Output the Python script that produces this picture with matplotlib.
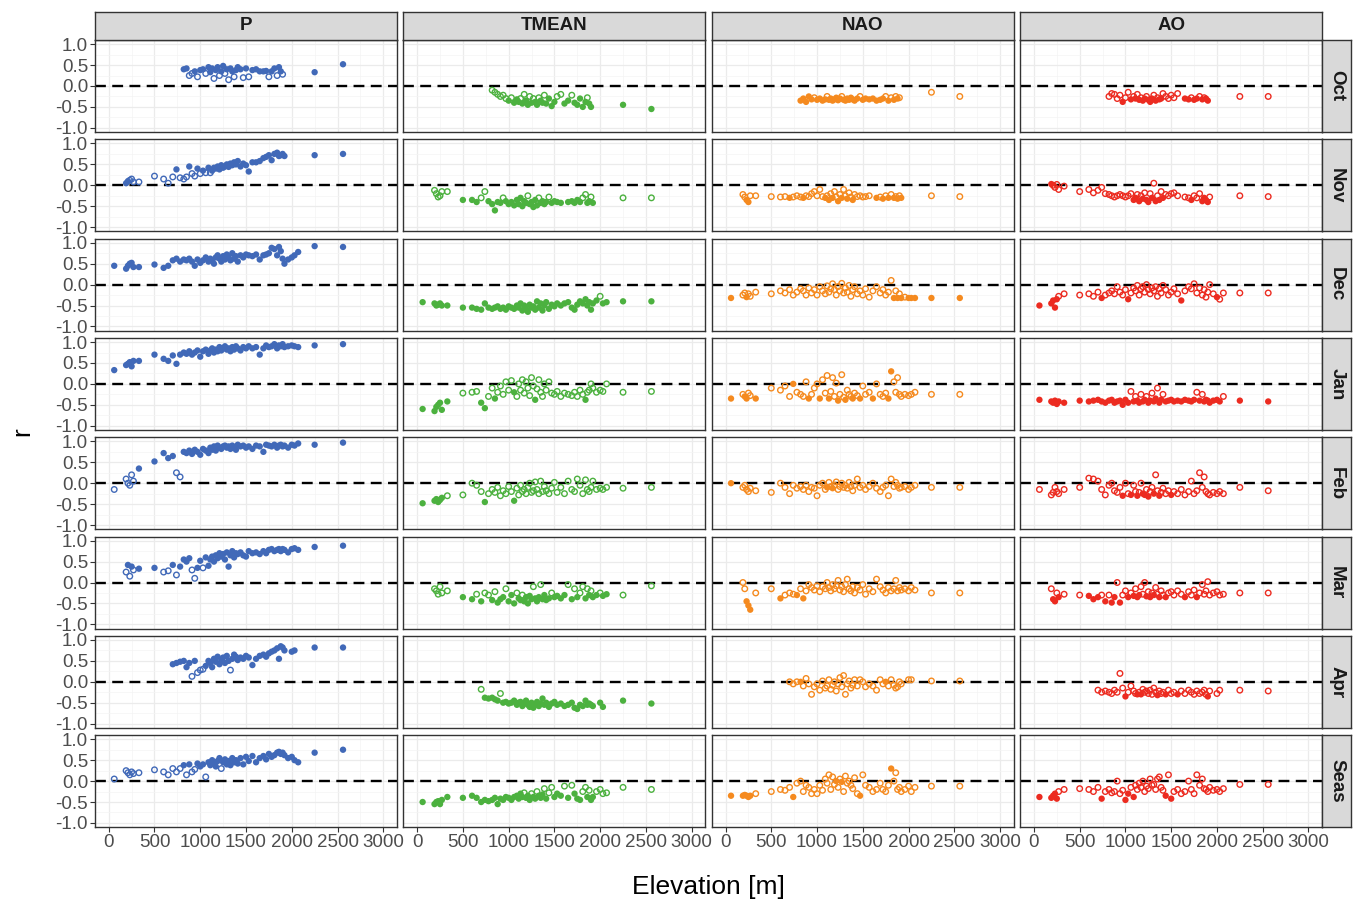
import matplotlib.pyplot as plt

plt.rcParams['font.family'] = ['Liberation Sans', 'DejaVu Sans']

N = None

# station elevations [m]
elev = [60, 190, 210, 230, 250, 270, 330,
        500, 600, 650, 700, 740, 780,
        820, 850, 880, 910, 940, 970, 1000, 1030, 1060, 1090,
        1110, 1130, 1150, 1170, 1190, 1210, 1230, 1250, 1270, 1290,
        1310, 1330, 1350, 1370, 1390, 1410, 1440, 1470, 1500, 1530,
        1570, 1610, 1650, 1690, 1720, 1750, 1780, 1810, 1840, 1860,
        1880, 1900, 1920, 1960, 2000, 2030, 2070, 2250, 2560]

months = ['Oct', 'Nov', 'Dec', 'Jan', 'Feb', 'Mar', 'Apr', 'Seas']
variables = ['P', 'TMEAN', 'NAO', 'AO']
colors = {'P': '#4169b8', 'TMEAN': '#4cb13f', 'NAO': '#f58a1f', 'AO': '#ec2b20'}

# ---- Oct ----
p_oct = [N]*13 + [
    0.40, 0.42, 0.25, 0.30, 0.35, 0.22, 0.38, 0.40, 0.30, 0.45,
    0.33, 0.42, 0.18, 0.38, 0.45, 0.25, 0.35, 0.48, 0.30, 0.40,
    0.15, 0.42, 0.35, 0.22, 0.38, 0.45, 0.40, 0.20, 0.42, 0.22,
    0.38, 0.40, 0.35, 0.35, 0.36, 0.22, 0.35, 0.42, 0.25, 0.45,
    0.35, 0.28, N, N, N, N, N, 0.33, 0.52]
p_oct_sig = "....... ...... 1100101101 1101101101 0110111010 1111101101 10.....11"
t_oct = [N]*13 + [
    -0.10, -0.15, -0.20, -0.25, -0.22, -0.30, -0.35, -0.28, -0.40, -0.32,
    -0.38, -0.30, -0.42, -0.20, -0.35, -0.45, -0.25, -0.40, -0.30, -0.38,
    -0.45, -0.28, -0.35, -0.40, -0.22, -0.42, -0.30, -0.48, -0.38, -0.25,
    -0.20, -0.42, -0.35, -0.22, -0.40, -0.45, -0.30, -0.50, -0.38, -0.28,
    -0.42, -0.50, N, N, N, N, N, -0.45, -0.55]
t_oct_sig = "....... ...... 0000001011 1010110101 1011011110 0110111110 11.....11"
n_oct = [N]*13 + [
    -0.35, -0.30, -0.38, -0.25, -0.32, -0.28, -0.33, -0.30, -0.35, -0.32,
    -0.25, -0.33, -0.30, -0.35, -0.32, -0.28, -0.34, -0.30, -0.25, -0.33,
    -0.35, -0.30, -0.33, -0.28, -0.32, -0.35, -0.30, -0.25, -0.33, -0.30,
    -0.32, -0.30, -0.35, -0.33, -0.30, -0.25, -0.35, -0.28, -0.33, -0.25,
    -0.30, -0.28, N, N, N, N, N, -0.15, -0.25]
n_oct_sig = "....... ...... 1111101111 0111111101 1111111011 1111101010 10.....00"
a_oct = [N]*13 + [
    -0.25, -0.18, -0.20, -0.30, -0.22, -0.38, -0.28, -0.15, -0.32, -0.25,
    -0.30, -0.20, -0.33, -0.28, -0.35, -0.30, -0.25, -0.33, -0.38, -0.30,
    -0.22, -0.35, -0.28, -0.32, -0.30, -0.18, -0.25, -0.30, -0.22, -0.28,
    -0.18, N, -0.30, -0.32, -0.28, -0.33, -0.30, -0.25, -0.32, -0.28,
    -0.30, -0.35, N, N, N, N, N, -0.25, -0.25]
a_oct_sig = "....... ...... 0000010010 1010110111 0101100000 0.11011010 11.....00"

# ---- Nov ----
p_nov = [N, 0.05, 0.10, 0.12, 0.15, 0.08, 0.08,
         0.22, 0.15, 0.05, 0.20, 0.38, 0.18,
         0.15, 0.20, 0.45, 0.28, 0.22, 0.40, 0.28, 0.35, 0.30, 0.42,
         0.30, 0.35, 0.42, 0.40, 0.45, 0.38, 0.48, 0.42, 0.45, 0.50,
         0.44, 0.52, 0.48, 0.55, 0.50, 0.58, 0.45, 0.52, 0.48, 0.33,
         0.55, 0.55, 0.58, 0.65, 0.68, 0.72, 0.60, 0.75, 0.78, 0.70,
         0.72, 0.75, 0.70, N, N, N, N, 0.72, 0.75]
p_nov_sig = ".110000 000010 0010010101 0111111111 1111111111 1111111111 111....11"
t_nov = [N, -0.12, -0.20, -0.28, -0.25, -0.15, -0.15,
         -0.35, -0.35, -0.40, -0.30, -0.15, -0.38,
         -0.45, -0.60, -0.40, -0.42, -0.30, -0.38, -0.45, -0.40, -0.48, -0.35,
         -0.45, -0.30, -0.50, -0.38, -0.42, -0.25, -0.45, -0.40, -0.52, -0.35,
         -0.48, -0.30, -0.42, -0.38, -0.45, -0.40, -0.28, -0.42, -0.38, -0.40,
         -0.42, N, -0.40, -0.38, -0.42, -0.35, -0.40, -0.30, -0.22, -0.42,
         -0.38, -0.28, -0.42, N, N, N, N, -0.30, -0.30]
t_nov_sig = ".000000 111001 1111011111 1111101111 1011110111 1.11111001 101....00"
n_nov = [N, -0.22, -0.28, -0.35, -0.40, -0.25, -0.25,
         -0.27, -0.28, -0.27, -0.30, -0.28, -0.25,
         -0.28, -0.30, -0.25, -0.27, -0.20, -0.15, -0.25, -0.10, -0.27, -0.30,
         -0.25, -0.35, -0.20, -0.30, -0.15, -0.28, -0.38, -0.22, -0.30, -0.10,
         -0.25, -0.32, -0.18, -0.28, -0.35, -0.22, -0.27, -0.25, -0.28, -0.27,
         -0.25, N, -0.30, -0.28, -0.32, -0.25, -0.30, -0.22, -0.30, -0.27,
         -0.32, -0.25, -0.30, N, N, N, N, -0.25, -0.27]
n_nov_sig = ".001100 000100 0100000001 0101001010 0100100000 0.10101010 101....00"
a_nov = [N, 0.03, 0.00, -0.05, 0.02, -0.10, -0.02,
         -0.15, -0.10, -0.18, -0.12, -0.05, -0.20,
         -0.22, -0.25, -0.28, -0.25, -0.22, -0.25, -0.28, -0.25, -0.20, -0.35,
         -0.30, -0.22, -0.38, -0.25, -0.32, -0.18, -0.35, -0.40, -0.20, -0.30,
         0.05, -0.38, -0.25, -0.35, -0.15, -0.30, -0.22, -0.25, -0.20, -0.18,
         -0.25, N, -0.28, -0.30, -0.35, -0.25, -0.30, -0.20, -0.38, -0.30,
         -0.35, -0.40, -0.28, N, N, N, N, -0.25, -0.27]
a_nov_sig = ".100000 000000 0000000001 1010101101 0101010000 0.00100011 110....00"

# ---- Dec ----
p_dec = [0.45, 0.38, 0.45, 0.50, 0.52, 0.42, 0.42,
         0.48, 0.40, 0.45, 0.58, 0.62, 0.55,
         0.60, 0.58, 0.62, 0.55, 0.45, 0.60, 0.52, 0.58, 0.65, 0.55,
         0.62, 0.58, 0.50, 0.65, 0.70, 0.62, 0.55, 0.68, 0.60, 0.72,
         0.65, 0.58, 0.75, 0.62, 0.68, 0.55, 0.70, 0.65, 0.72, 0.70,
         0.68, 0.72, 0.60, 0.70, 0.72, 0.75, 0.88, 0.85, 0.70, 0.90,
         0.80, 0.62, 0.50, 0.60, 0.65, 0.70, 0.78, 0.92, 0.90]
p_dec_sig = "1111111 111111 1111111111 1111111111 1111111111 1111111111 111111111"
t_dec = [-0.42, -0.45, -0.50, -0.48, -0.45, -0.50, -0.50,
         -0.55, -0.55, -0.58, -0.60, -0.45, -0.55,
         -0.58, -0.55, -0.52, -0.58, -0.55, -0.60, -0.52, -0.55, -0.58, -0.50,
         -0.55, -0.45, -0.62, -0.50, -0.58, -0.65, -0.48, -0.55, -0.52, -0.60,
         -0.40, -0.55, -0.45, -0.62, -0.50, -0.42, -0.58, -0.48, -0.52, -0.45,
         -0.50, -0.45, -0.42, -0.55, -0.60, -0.48, -0.40, -0.45, -0.35, -0.50,
         -0.42, -0.60, -0.45, -0.38, -0.28, -0.45, -0.42, -0.40, -0.40]
t_dec_sig = "1111111 111111 1111111111 1111111111 1111111111 1111111111 111101111"
n_dec = [-0.32, -0.25, -0.20, -0.30, -0.22, -0.28, -0.18,
         -0.22, -0.15, -0.20, -0.12, -0.25, -0.18,
         -0.10, -0.15, -0.25, -0.08, -0.20, -0.12, -0.25, -0.05, -0.15, -0.22,
         -0.03, -0.18, -0.10, 0.02, -0.12, -0.25, -0.05, -0.15, 0.03, -0.20,
         -0.08, -0.18, -0.02, -0.28, -0.12, -0.05, -0.22, -0.15, -0.25, -0.10,
         -0.30, -0.15, -0.05, -0.20, -0.12, -0.25, -0.18, 0.10, -0.32, -0.15,
         -0.32, -0.22, -0.32, -0.30, -0.32, -0.32, -0.32, -0.32, -0.32]
n_dec_sig = "1001000 000000 0000000000 0000000000 0000000000 0000000010 101011111"
a_dec = [-0.50, -0.45, -0.38, -0.55, -0.35, -0.28, -0.22,
         -0.25, -0.22, -0.28, -0.18, -0.32, -0.25,
         -0.20, -0.15, -0.22, -0.05, -0.18, -0.25, -0.12, -0.35, -0.20, -0.08,
         -0.15, -0.02, -0.25, -0.10, -0.05, -0.18, 0.00, -0.12, -0.22, -0.08,
         -0.15, -0.05, -0.28, -0.10, -0.20, -0.02, -0.12, -0.25, -0.18, -0.10,
         -0.22, -0.38, -0.15, -0.05, -0.10, 0.02, -0.20, -0.08, -0.25, -0.12,
         -0.30, -0.18, 0.00, -0.22, -0.30, -0.35, -0.20, -0.20, -0.20]
a_dec_sig = "1111100 000010 0000000100 0000000000 0000000000 0100000000 000010000"

# ---- Jan ----
p_jan = [0.33, 0.45, 0.48, 0.52, 0.42, 0.55, 0.55,
         0.70, 0.60, 0.55, 0.68, 0.48, 0.70,
         0.75, 0.72, 0.78, 0.70, 0.75, 0.80, 0.65, 0.78, 0.82, 0.72,
         0.80, 0.85, 0.75, 0.82, 0.78, 0.88, 0.80, 0.85, 0.90, 0.82,
         0.85, 0.78, 0.88, 0.82, 0.90, 0.85, 0.80, 0.88, 0.85, 0.90,
         0.85, 0.88, 0.70, 0.85, 0.92, 0.88, 0.90, 0.95, 0.85, 0.92,
         0.90, 0.95, 0.88, 0.90, 0.92, 0.90, 0.88, 0.92, 0.95]
p_jan_sig = "1111111 111111 1111111111 1111111111 1111111111 1111111111 111111111"
t_jan = [-0.60, -0.65, -0.55, -0.50, -0.45, -0.62, -0.42,
         -0.22, -0.20, -0.18, -0.45, -0.58, -0.30,
         -0.10, -0.35, -0.20, -0.05, -0.25, 0.05, -0.15, 0.08, -0.20, -0.30,
         0.00, -0.15, 0.10, -0.22, 0.05, -0.10, -0.28, 0.15, -0.05, -0.38,
         -0.12, 0.10, -0.20, -0.30, 0.00, -0.15, 0.05, -0.22, -0.25, -0.18,
         -0.30, -0.22, -0.25, -0.28, -0.20, -0.30, -0.15, -0.25, -0.38, -0.20,
         -0.15, 0.00, -0.10, -0.20, -0.15, -0.18, 0.00, -0.20, -0.18]
t_jan_sig = "1111111 000110 0100000010 0000000001 0000000000 0000000010 000000000"
n_jan = [-0.35, -0.25, -0.30, -0.35, -0.22, -0.28, -0.35,
         -0.10, -0.15, -0.05, -0.30, 0.00, -0.20,
         -0.25, -0.30, 0.05, -0.35, -0.25, -0.10, 0.00, -0.35, 0.10, -0.22,
         0.20, -0.35, -0.18, 0.15, -0.30, 0.02, -0.40, -0.25, 0.22, -0.32,
         -0.38, -0.15, -0.25, -0.30, -0.35, -0.22, -0.28, -0.35, -0.05, -0.25,
         -0.20, -0.35, 0.00, -0.25, -0.30, -0.22, -0.35, 0.30, 0.05, -0.20,
         0.15, -0.25, -0.30, -0.25, -0.28, -0.25, -0.20, -0.25, -0.25]
n_jan_sig = "1011001 000010 0001000100 0100001000 1000100100 0100001100 000000000"
a_jan = [-0.38, -0.42, -0.45, -0.40, -0.48, -0.42, -0.45,
         -0.40, -0.42, -0.40, -0.38, -0.42, -0.45,
         -0.40, -0.38, -0.45, -0.42, -0.40, -0.50, -0.38, -0.45, -0.18, -0.42,
         -0.30, -0.40, -0.45, -0.25, -0.42, -0.38, -0.30, -0.45, -0.40, -0.22,
         -0.42, -0.35, -0.10, -0.45, -0.38, -0.25, -0.42, -0.40, -0.38, -0.42,
         -0.40, -0.42, -0.38, -0.40, -0.42, -0.38, -0.20, -0.40, -0.25, -0.42,
         -0.38, -0.40, -0.45, -0.40, -0.38, -0.42, -0.30, -0.40, -0.42]
a_jan_sig = "1111111 111111 1111111101 0110110110 1101101111 1111110101 111111011"

# ---- Feb ----
p_feb = [-0.15, 0.10, 0.00, -0.05, 0.20, 0.05, 0.35,
         0.52, 0.72, 0.60, 0.65, 0.25, 0.15,
         0.75, 0.72, 0.78, 0.70, 0.80, 0.75, 0.68, 0.82, 0.78, 0.72,
         0.85, 0.80, 0.88, 0.78, 0.90, 0.85, 0.82, 0.88, 0.90, 0.85,
         0.88, 0.82, 0.90, 0.85, 0.80, 0.92, 0.88, 0.90, 0.85, 0.88,
         0.82, 0.90, 0.88, 0.75, 0.92, 0.90, 0.88, 0.92, 0.85, 0.90,
         0.92, 0.88, 0.90, 0.85, 0.92, 0.90, 0.95, 0.92, 0.97]
p_feb_sig = "0000001 111100 1111111111 1111111111 1111111111 1111111111 111111111"
t_feb = [-0.48, -0.42, -0.38, -0.45, -0.40, -0.35, -0.30,
         -0.28, 0.00, -0.05, -0.20, -0.45, -0.25,
         -0.15, -0.22, -0.10, -0.30, -0.18, -0.25, -0.08, -0.20, -0.42, -0.12,
         -0.28, -0.05, -0.20, -0.15, -0.25, -0.10, 0.00, -0.22, -0.18, 0.03,
         -0.15, -0.25, 0.05, -0.20, -0.08, -0.18, -0.25, -0.12, 0.02, -0.22,
         -0.10, -0.25, 0.05, -0.15, -0.20, 0.10, -0.05, -0.25, 0.08, -0.15,
         -0.20, -0.10, 0.05, -0.15, -0.12, -0.15, -0.10, -0.12, -0.10]
t_feb_sig = "1111110 000010 0000000010 0000000000 0000000000 0000000000 000000000"
n_feb = [0.00, -0.10, -0.05, -0.15, -0.20, -0.12, -0.18,
         -0.22, 0.00, -0.10, -0.25, -0.05, -0.12,
         -0.08, -0.15, -0.05, -0.20, -0.10, -0.12, -0.30, -0.05, 0.00, -0.15,
         -0.10, 0.02, -0.08, -0.12, -0.05, 0.03, -0.15, -0.08, 0.00, -0.10,
         -0.05, -0.12, 0.02, -0.08, -0.18, -0.05, 0.10, -0.10, -0.05, -0.15,
         -0.08, 0.00, -0.12, -0.20, -0.10, -0.05, -0.30, 0.10, -0.08, 0.02,
         -0.05, -0.12, -0.10, -0.08, -0.15, -0.10, -0.05, -0.10, -0.10]
n_feb_sig = "1000000 000000 0000000000 1001000000 0000000000 0000000000 000000000"
a_feb = [-0.15, -0.28, -0.22, -0.10, -0.20, -0.25, -0.15,
         -0.10, 0.12, 0.10, 0.05, -0.15, -0.28,
         -0.05, 0.00, -0.18, -0.22, -0.10, -0.30, 0.00, -0.25, -0.28, -0.05,
         -0.20, -0.30, -0.22, 0.00, -0.25, -0.28, -0.15, -0.32, -0.20, -0.10,
         -0.25, 0.20, -0.18, -0.30, -0.22, -0.12, -0.25, -0.18, -0.28, -0.20,
         -0.25, -0.15, -0.28, -0.20, 0.05, -0.25, -0.18, 0.25, -0.10, 0.15,
         -0.20, -0.25, -0.28, -0.22, -0.25, -0.20, -0.25, -0.10, -0.18]
a_feb_sig = "0000000 000000 0000010010 0100110100 1001000010 0000000000 000000000"

# ---- Mar ----
p_mar = [N, 0.25, 0.42, 0.15, 0.38, 0.30, 0.33,
         0.35, 0.25, 0.28, 0.42, 0.18, 0.38,
         0.55, 0.50, 0.58, 0.30, 0.10, 0.35, 0.52, 0.35, 0.60, 0.40,
         0.55, 0.62, 0.50, 0.65, 0.58, 0.70, 0.62, 0.68, 0.55, 0.72,
         0.38, 0.65, 0.75, 0.60, 0.70, 0.68, 0.72, 0.65, 0.62, 0.75,
         0.70, 0.72, 0.68, 0.75, 0.70, 0.78, 0.80, 0.75, 0.78, 0.80,
         0.75, 0.80, 0.78, 0.72, 0.80, 0.82, 0.78, 0.85, 0.88]
p_mar_sig = ".010101 100101 1110011011 1111111111 1111111111 1111111111 111111111"
t_mar = [N, -0.15, -0.20, -0.28, -0.10, -0.25, -0.20,
         -0.35, -0.40, -0.28, -0.45, -0.25, -0.30,
         -0.42, -0.22, -0.48, -0.40, -0.35, -0.15, -0.45, -0.30, -0.50, -0.25,
         -0.38, -0.42, -0.30, -0.45, -0.35, -0.50, -0.32, -0.40, -0.10, -0.38,
         -0.45, -0.35, -0.05, -0.40, -0.30, -0.42, -0.38, -0.25, -0.35, -0.32,
         -0.38, -0.30, -0.05, -0.40, -0.15, -0.35, -0.25, -0.10, -0.38, -0.15,
         -0.30, -0.20, -0.35, -0.30, -0.25, -0.32, -0.28, -0.30, -0.08]
t_mar_sig = ".000000 110100 1011101110 1101111101 1101111011 1101010010 101101100"
n_mar = [N, 0.00, -0.15, -0.45, -0.55, -0.65, -0.25,
         -0.15, -0.38, -0.30, -0.25, -0.28, -0.30,
         -0.15, -0.38, -0.20, -0.05, -0.12, -0.18, -0.08, -0.22, -0.10, -0.15,
         0.00, -0.12, -0.20, -0.05, -0.15, -0.08, 0.05, -0.18, -0.10, -0.22,
         -0.05, 0.08, -0.15, -0.20, -0.10, -0.25, -0.12, -0.18, -0.05, -0.28,
         -0.15, -0.22, 0.08, -0.10, -0.18, -0.25, -0.12, -0.20, -0.15, 0.05,
         -0.20, -0.12, -0.18, -0.15, -0.20, -0.12, -0.18, -0.25, -0.25]
n_mar_sig = ".001110 010001 0100000000 0000000000 0000000000 0000000000 000000000"
a_mar = [N, -0.15, -0.40, -0.45, -0.25, -0.35, -0.28,
         -0.30, -0.32, -0.40, -0.35, -0.30, -0.45,
         -0.30, -0.48, -0.35, 0.00, -0.48, -0.30, -0.20, -0.35, -0.25, -0.32,
         -0.15, -0.35, -0.30, -0.10, -0.28, 0.00, -0.33, -0.22, -0.35, -0.25,
         -0.30, -0.12, -0.28, -0.35, -0.20, -0.30, -0.35, -0.25, -0.22, -0.30,
         -0.20, -0.28, -0.35, -0.22, -0.30, -0.18, -0.35, -0.25, -0.05, -0.28,
         -0.20, 0.02, -0.30, -0.25, -0.22, -0.30, -0.28, -0.25, -0.25]
a_mar_sig = ".011010 011101 0110100101 0110001010 1001001000 0010001000 000000000"

# ---- Apr ----
p_apr = [N]*10 + [
    0.42, 0.45, 0.48,
    0.50, 0.35, 0.45, 0.13, 0.50, 0.22, 0.28, 0.30, 0.38, 0.50,
    0.45, 0.35, 0.55, 0.48, 0.60, 0.42, 0.52, 0.58, 0.45, 0.62,
    0.50, 0.28, 0.55, 0.65, 0.60, 0.52, 0.58, 0.55, 0.62, 0.58,
    0.40, 0.55, 0.62, 0.65, 0.60, 0.68, 0.72, 0.75, 0.80, 0.55,
    0.85, 0.82, 0.75, N, 0.72, 0.75, N, 0.82, 0.82]
p_apr_sig = "....... ...111 1110100011 1111111111 1011111111 1111111111 111.11.11"
t_apr = [N]*10 + [
    -0.18, -0.38, -0.40,
    -0.38, -0.42, -0.45, -0.28, -0.50, -0.48, -0.52, -0.50, -0.45, -0.55,
    -0.50, -0.48, -0.58, -0.52, -0.45, -0.55, -0.60, -0.50, -0.62, -0.55,
    -0.48, -0.58, -0.52, -0.40, -0.55, -0.50, -0.60, -0.52, -0.48, -0.55,
    -0.52, -0.58, -0.55, -0.50, -0.62, -0.65, -0.55, -0.58, -0.45, -0.55,
    -0.52, -0.55, -0.58, N, -0.50, -0.60, N, -0.45, -0.52]
t_apr_sig = "....... ...011 1110111111 1111111111 1111111111 1111111111 111.11.11"
n_apr = [N]*10 + [
    0.00, -0.05, 0.00,
    0.00, -0.10, 0.08, -0.05, -0.30, -0.12, -0.05, -0.20, 0.02, -0.15,
    -0.10, 0.05, -0.18, -0.08, 0.00, -0.22, -0.05, 0.10, -0.12, 0.15,
    -0.30, -0.05, 0.02, -0.15, -0.08, 0.05, -0.10, 0.05, 0.00, -0.12,
    -0.05, -0.10, -0.20, 0.05, -0.05, 0.00, -0.10, 0.05, -0.08, -0.15,
    -0.12, 0.00, -0.05, N, 0.05, 0.05, N, 0.02, 0.02]
n_apr_sig = "....... ...000 1000000000 0000000000 0000000000 0000010000 000.00.00"
a_apr = [N]*10 + [
    -0.20, -0.25, -0.22,
    -0.25, -0.28, -0.20, -0.25, 0.20, -0.15, -0.35, -0.25, -0.10, -0.22,
    -0.28, -0.30, -0.25, -0.30, -0.18, -0.25, -0.22, -0.28, -0.20, -0.30,
    -0.15, -0.25, -0.32, -0.22, -0.28, -0.25, -0.30, -0.20, -0.28, -0.25,
    -0.30, -0.22, -0.28, -0.20, -0.25, -0.30, -0.22, -0.28, -0.25, -0.20,
    -0.30, -0.35, -0.22, N, -0.28, -0.20, N, -0.20, -0.22]
a_apr_sig = "....... ...000 0000001000 0101000000 0010001000 1000000000 010.00.00"

# ---- Seas ----
p_seas = [0.05, 0.25, 0.20, 0.15, 0.22, 0.18, 0.20,
          0.27, 0.22, 0.15, 0.30, 0.22, 0.30,
          0.38, 0.15, 0.40, 0.22, 0.28, 0.42, 0.35, 0.40, 0.10, 0.45,
          0.38, 0.50, 0.42, 0.35, 0.48, 0.55, 0.30, 0.45, 0.52, 0.40,
          0.48, 0.38, 0.55, 0.45, 0.50, 0.42, 0.55, 0.40, 0.58, 0.48,
          0.60, 0.45, 0.55, 0.60, 0.52, 0.65, 0.58, 0.62, 0.68, 0.70,
          0.65, 0.68, 0.62, 0.55, 0.58, 0.50, 0.45, 0.68, 0.75]
p_seas_sig = "0000000 000000 1010011101 1111110111 1111111111 1111111111 111111111"
t_seas = [-0.50, -0.55, -0.50, -0.48, -0.55, -0.45, -0.38,
          -0.40, -0.35, -0.40, -0.50, -0.45, -0.48,
          -0.45, -0.40, -0.55, -0.42, -0.45, -0.38, -0.40, -0.45, -0.38, -0.35,
          -0.42, -0.30, -0.38, -0.28, -0.40, -0.35, -0.45, -0.30, -0.38, -0.42,
          -0.25, -0.35, -0.40, -0.32, -0.18, -0.42, -0.28, -0.15, -0.38, -0.30,
          -0.35, -0.12, -0.40, -0.10, -0.30, -0.42, -0.45, -0.25, -0.15, -0.38,
          -0.22, -0.45, -0.38, -0.25, -0.20, -0.30, -0.28, -0.15, -0.20]
t_seas_sig = "1111111 111111 1111111111 1110111011 0111010011 1010111001 011000000"
n_seas = [-0.35, -0.35, -0.33, -0.35, -0.38, -0.35, -0.30,
          -0.25, -0.20, -0.22, -0.15, -0.38, -0.05,
          0.00, -0.25, -0.10, -0.15, -0.30, -0.20, -0.30, -0.10, -0.22, 0.05,
          -0.05, 0.15, -0.20, 0.10, -0.08, 0.00, -0.15, 0.05, -0.02, -0.25,
          0.12, -0.05, 0.00, -0.10, -0.18, 0.08, -0.30, -0.35, 0.15, -0.10,
          -0.15, -0.25, -0.20, -0.05, -0.20, -0.25, -0.10, 0.30, 0.00, 0.20,
          -0.20, -0.15, -0.25, -0.20, -0.12, -0.25, -0.15, -0.12, -0.12]
n_seas_sig = "1111110 000010 0000000000 0000010010 0000000100 0000000100 000000000"
a_seas = [-0.38, -0.40, -0.35, -0.30, -0.42, -0.25, -0.20,
          -0.18, -0.20, -0.25, -0.15, -0.42, -0.25,
          -0.20, -0.28, -0.25, 0.00, -0.30, -0.22, -0.45, -0.30, -0.15, -0.38,
          -0.10, -0.20, -0.05, -0.15, 0.00, -0.25, -0.12, -0.18, 0.05, -0.10,
          -0.08, -0.20, 0.05, 0.10, -0.15, -0.22, -0.35, 0.15, -0.42, -0.25,
          -0.20, -0.30, -0.25, 0.00, -0.20, -0.30, 0.15, -0.10, 0.05, -0.18,
          -0.20, -0.25, -0.15, -0.22, -0.20, -0.25, -0.18, -0.08, -0.08]
a_seas_sig = "1111100 000010 0000001101 0000000000 0000001010 0000000000 000000000"

table = {
    ('P', 'Oct'): (p_oct, p_oct_sig), ('TMEAN', 'Oct'): (t_oct, t_oct_sig),
    ('NAO', 'Oct'): (n_oct, n_oct_sig), ('AO', 'Oct'): (a_oct, a_oct_sig),
    ('P', 'Nov'): (p_nov, p_nov_sig), ('TMEAN', 'Nov'): (t_nov, t_nov_sig),
    ('NAO', 'Nov'): (n_nov, n_nov_sig), ('AO', 'Nov'): (a_nov, a_nov_sig),
    ('P', 'Dec'): (p_dec, p_dec_sig), ('TMEAN', 'Dec'): (t_dec, t_dec_sig),
    ('NAO', 'Dec'): (n_dec, n_dec_sig), ('AO', 'Dec'): (a_dec, a_dec_sig),
    ('P', 'Jan'): (p_jan, p_jan_sig), ('TMEAN', 'Jan'): (t_jan, t_jan_sig),
    ('NAO', 'Jan'): (n_jan, n_jan_sig), ('AO', 'Jan'): (a_jan, a_jan_sig),
    ('P', 'Feb'): (p_feb, p_feb_sig), ('TMEAN', 'Feb'): (t_feb, t_feb_sig),
    ('NAO', 'Feb'): (n_feb, n_feb_sig), ('AO', 'Feb'): (a_feb, a_feb_sig),
    ('P', 'Mar'): (p_mar, p_mar_sig), ('TMEAN', 'Mar'): (t_mar, t_mar_sig),
    ('NAO', 'Mar'): (n_mar, n_mar_sig), ('AO', 'Mar'): (a_mar, a_mar_sig),
    ('P', 'Apr'): (p_apr, p_apr_sig), ('TMEAN', 'Apr'): (t_apr, t_apr_sig),
    ('NAO', 'Apr'): (n_apr, n_apr_sig), ('AO', 'Apr'): (a_apr, a_apr_sig),
    ('P', 'Seas'): (p_seas, p_seas_sig), ('TMEAN', 'Seas'): (t_seas, t_seas_sig),
    ('NAO', 'Seas'): (n_seas, n_seas_sig), ('AO', 'Seas'): (a_seas, a_seas_sig),
}

W, H = 1353, 900
fig = plt.figure(figsize=(W / 100, H / 100), dpi=100)

left0, pw, px = 95, 302, 308.4
top0, ph, py = 40, 92, 99.3
border = '#333333'

for i, m in enumerate(months):
    for j, v in enumerate(variables):
        x0 = left0 + j * px
        y0 = top0 + i * py
        ax = fig.add_axes([x0 / W, 1 - (y0 + ph) / H, pw / W, ph / H])
        ax.set_xlim(-150, 3150)
        ax.set_ylim(-1.1, 1.1)
        ax.set_xticks([0, 500, 1000, 1500, 2000, 2500, 3000])
        ax.set_xticks([250, 750, 1250, 1750, 2250, 2750], minor=True)
        ax.set_yticks([-1.0, -0.5, 0.0, 0.5, 1.0])
        ax.set_yticks([-0.75, -0.25, 0.25, 0.75], minor=True)
        ax.set_yticklabels(['-1.0', '-0.5', '0.0', '0.5', '1.0'])
        ax.set_xticklabels(['0', '500', '1000', '1500', '2000', '2500', '3000'])
        ax.grid(which='major', color='#ebebeb', lw=0.9)
        ax.grid(which='minor', color='#f4f4f4', lw=0.5)
        ax.set_axisbelow(True)
        for s in ax.spines.values():
            s.set_color(border)
            s.set_linewidth(1.0)
        ax.tick_params(which='minor', length=0)
        ax.tick_params(which='major', length=3.5, width=0.8, color=border,
                       labelsize=13.5, labelcolor='#4d4d4d', pad=1.5)
        if j > 0:
            ax.tick_params(left=False, labelleft=False)
        if i < len(months) - 1:
            ax.tick_params(bottom=False, labelbottom=False)

        ax.axhline(0, color='black', lw=1.7, ls=(0, (4.6, 2.7)), zorder=2)

        vals, sig = table[(v, m)]
        sig = sig.replace(' ', '')
        xf, yf, xo, yo = [], [], [], []
        for k in range(len(elev)):
            if vals[k] is None:
                continue
            if sig[k] == '1':
                xf.append(elev[k])
                yf.append(vals[k])
            else:
                xo.append(elev[k])
                yo.append(vals[k])
        c = colors[v]
        ax.scatter(xo, yo, s=16, facecolors='none', edgecolors=c, linewidths=1.0, zorder=3)
        ax.scatter(xf, yf, s=21, color=c, edgecolors='none', zorder=3)

        if i == 0:
            sx = fig.add_axes([x0 / W, 1 - 40 / H, pw / W, 28 / H])
            sx.set_facecolor('#d9d9d9')
            sx.set_xticks([])
            sx.set_yticks([])
            for s in sx.spines.values():
                s.set_color(border)
                s.set_linewidth(1.0)
            sx.text(0.5, 0.5, v, ha='center', va='center', fontsize=13.5,
                    fontweight='bold', color='#1a1a1a', transform=sx.transAxes)
        if j == len(variables) - 1:
            sx = fig.add_axes([(x0 + pw) / W, 1 - (y0 + ph) / H, 29 / W, ph / H])
            sx.set_facecolor('#d9d9d9')
            sx.set_xticks([])
            sx.set_yticks([])
            for s in sx.spines.values():
                s.set_color(border)
                s.set_linewidth(1.0)
            sx.text(0.5, 0.5, m, ha='center', va='center', fontsize=13.5,
                    fontweight='bold', color='#1a1a1a', rotation=-90,
                    transform=sx.transAxes)

fig.text(708 / W, 1 - 887 / H, 'Elevation [m]', ha='center', va='center', fontsize=19)
fig.text(22 / W, 1 - 432 / H, 'r', ha='center', va='center', fontsize=19, rotation=90)

plt.savefig('out.png', dpi=100)
